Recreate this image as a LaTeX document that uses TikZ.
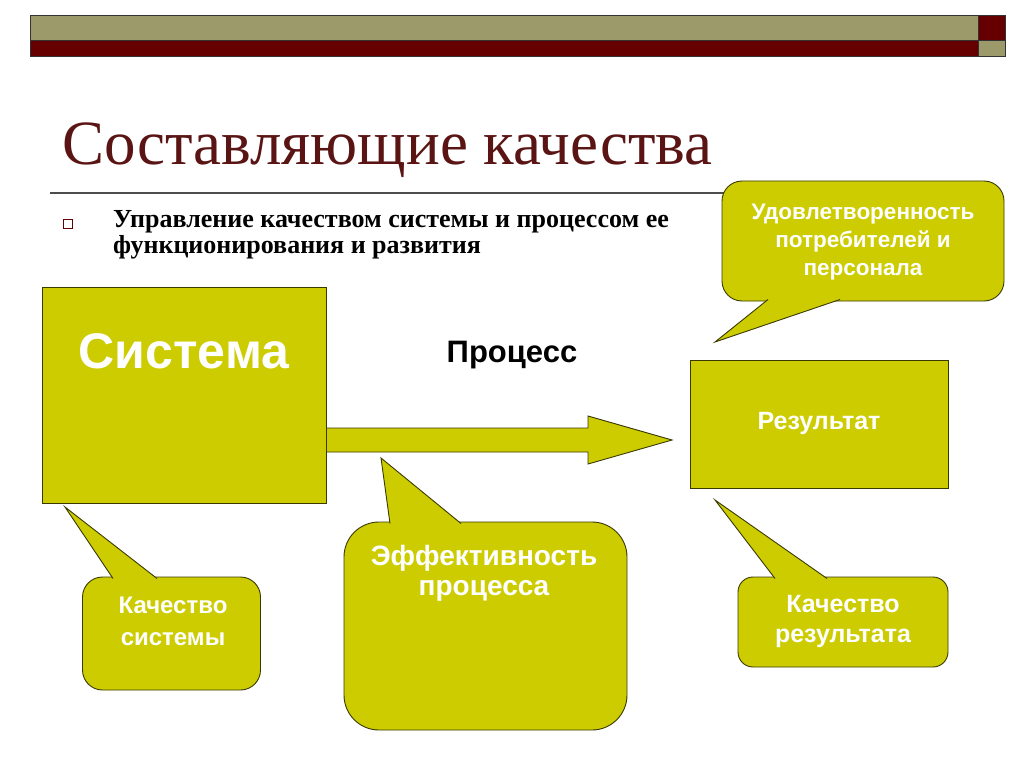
\documentclass[tikz,border=0pt]{standalone}
\usepackage{fontspec}
\setmainfont{Liberation Serif}
\setsansfont{Liberation Sans}
\definecolor{boxolive}{HTML}{CCCC00}
\definecolor{boxline}{HTML}{3A3A00}
\definecolor{barolive}{HTML}{9C9A6A}
\definecolor{barred}{HTML}{660000}
\definecolor{titlered}{HTML}{5A1414}
\definecolor{rulegray}{HTML}{4D4D4D}

\begin{document}
\begin{tikzpicture}[x=1pt, y=-1pt,
   box/.style={draw=boxline, fill=boxolive, line width=0.9pt, inner sep=0pt},
   tail/.style={draw=boxline, fill=boxolive, line width=0.9pt},
   boxtext/.style={text=white, align=center, inner sep=0pt, anchor=base},
   barpart/.style={draw=black!80, line width=0.7pt}]
   \useasboundingbox (0,0) rectangle (1024,767);
   % top bar
   \filldraw[barpart, fill=barolive] (30,15) rectangle (978,40);
   \filldraw[barpart, fill=barred] (30,40) rectangle (978,56);
   \filldraw[barpart, fill=barred] (978,15) rectangle (1005,40);
   \filldraw[barpart, fill=barolive] (978,40) rectangle (1005,56);
   % title
   \node(title)[anchor=base west, inner sep=0pt, text=titlered,
      font=\fontsize{63}{63}\selectfont] at (62,165) {Составляющие качества};
   \draw[rulegray, line width=1.3pt] (50,193) -- (735,193);
   \node(bullet)[draw=barred, line width=0.8pt, minimum size=9pt, inner sep=0pt] at (68,224) {};
   \node(point)[anchor=base west, inner sep=0pt, align=left,
      font=\fontsize{26}{25}\selectfont\bfseries] at (113,253)
      {Управление качеством системы и процессом ее\\функционирования и развития};
   % arrow
   \filldraw[tail] (326,428) -- (588,428) -- (588,416) -- (672,440)
      -- (588,464) -- (588,452) -- (326,452) -- cycle;
   \node(proc)[anchor=base, inner sep=0pt, font=\fontsize{31}{31}\selectfont\sffamily\bfseries]
      at (512,362) {Процесс};
   % boxes
   \node(sys)[box, minimum width=284pt, minimum height=216pt] at (184,395) {};
   \node(systext)[boxtext, font=\fontsize{50}{50}\selectfont\sffamily\bfseries] at (184,368) {Система};
   \node(res)[box, minimum width=258pt, minimum height=128pt] at (819,424) {};
   \node(restext)[boxtext, font=\fontsize{25}{25}\selectfont\sffamily\bfseries] at (819,429) {Результат};
   % callouts
   \node(udov)[box, rounded corners=20pt, minimum width=282pt, minimum height=120pt] at (863,241) {};
   \coordinate (udovtip) at (715,342);
   \path[tail] (768,299.5) -- (udovtip) -- (840,299.5);
   \node(udovtext)[boxtext, font=\fontsize{22.5}{28}\selectfont\sffamily\bfseries] at (863,275)
      {Удовлетворенность\\потребителей и\\персонала};

   \node(qsys)[box, rounded corners=20pt, minimum width=178pt, minimum height=113pt] at (171.5,633.5) {};
   \coordinate (qsystip) at (65,507);
   \path[tail] (113,578.5) -- (qsystip) -- (157,578.5);
   \node(qsystext)[boxtext, font=\fontsize{24}{32}\selectfont\sffamily\bfseries] at (173,645)
      {Качество\\системы};

   \node(eff)[box, rounded corners=35pt, minimum width=283pt, minimum height=208pt] at (485.5,626) {};
   \coordinate (efftip) at (381,458);
   \path[tail] (390,523.5) -- (efftip) -- (461,523.5);
   \node(efftext)[boxtext, font=\fontsize{28}{30}\selectfont\sffamily\bfseries] at (484,595)
      {Эффективность\\процесса};

   \node(qres)[box, rounded corners=15pt, minimum width=210pt, minimum height=90pt] at (843,622) {};
   \coordinate (qrestip) at (715,500);
   \path[tail] (775,578.5) -- (qrestip) -- (827,578.5);
   \node(qrestext)[boxtext, font=\fontsize{25}{30}\selectfont\sffamily\bfseries] at (843,642)
      {Качество\\результата};
\end{tikzpicture}
\end{document}
